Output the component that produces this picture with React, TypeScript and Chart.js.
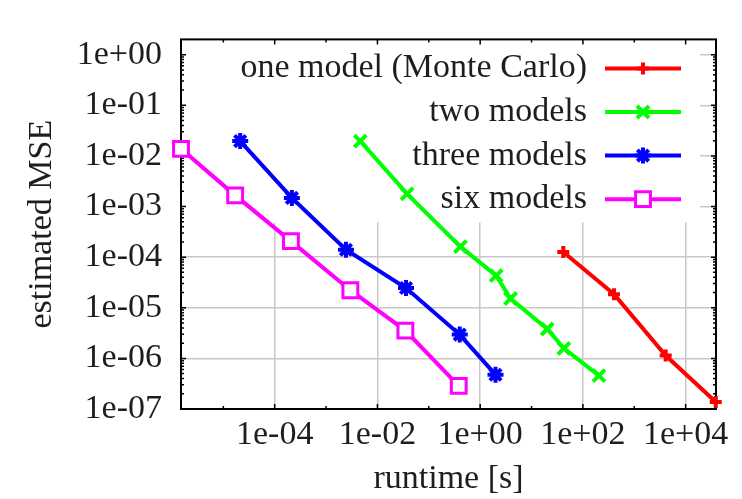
import React, { useEffect, useRef } from 'react';
import { Chart, registerables } from 'chart.js';
import { drawPoint } from 'chart.js/helpers';

Chart.register(...registerables);

// ---- data ----
const seriesNames = ['one model (Monte Carlo)', 'two models', 'three models', 'six models'];

const oneModelRuntime = [41.5, 403, 4090, 38600];
const oneModelMSE = [1.26e-4, 1.85e-5, 1.14e-6, 1.37e-7];

const twoModelsRuntime = [4.64e-3, 0.0378, 0.413, 2.05, 3.9, 20.2, 42.7, 205];
const twoModelsMSE = [0.0196, 1.78e-3, 1.61e-4, 4.32e-5, 1.52e-5, 3.8e-6, 1.58e-6, 4.56e-7];

const threeModelsRuntime = [2.13e-5, 2.16e-4, 2.44e-3, 0.036, 0.4, 1.99];
const threeModelsMSE = [0.0196, 1.48e-3, 1.4e-4, 2.45e-5, 2.95e-6, 4.76e-7];

const sixModelsRuntime = [1.5e-6, 1.7e-5, 2.07e-4, 2.97e-3, 0.035, 0.383];
const sixModelsMSE = [0.0138, 1.66e-3, 2.07e-4, 2.22e-5, 3.54e-6, 2.86e-7];

const xTickValues = [1e-4, 1e-2, 1e0, 1e2, 1e4];
const xMinorTickValues = [1e-5, 1e-3, 1e-1, 1e1, 1e3];
const yTickValues = [1e0, 1e-1, 1e-2, 1e-3, 1e-4, 1e-5, 1e-6, 1e-7];
const xRange = [1.5e-6, 3.9e4];
const yRange = [1e-7, 2];

// ---- styles ----
const colors = ['#ff0000', '#00ff00', '#0000ff', '#ff00ff'];
const pointStyles = ['cross', 'crossRot', 'star', 'rect'];
const pointRadii = [6, 8.5, 8, 10.5];
const pointBorders = [4, 4, 4, 3];
const FONT = '"Liberation Serif", Tinos, "Times New Roman", serif';
const FONT_SIZE = 34;
const TEXT = '#1e1e1e';

Chart.defaults.font.family = FONT;
Chart.defaults.font.size = FONT_SIZE;

const fmtExp = (v: number) => {
  const e = Math.round(Math.log10(v));
  return '1e' + (e < 0 ? '-' : '+') + String(Math.abs(e)).padStart(2, '0');
};

const toPoints = (xs: number[], ys: number[]) => xs.map((x, i) => ({ x, y: ys[i] }));

const framePlugin = {
  id: 'gnuplotFrame',
  beforeDatasetsDraw(chart: any) {
    const { ctx, chartArea: a, scales } = chart;
    const xs = scales.x;
    const ys = scales.y;
    ctx.save();
    // opaque key box
    ctx.fillStyle = '#ffffff';
    ctx.fillRect(a.left + 1, a.top + 1, 700 - a.left - 1, 182);

    // frame
    ctx.strokeStyle = '#000';
    ctx.lineWidth = 2;
    ctx.strokeRect(a.left, a.top, a.right - a.left, a.bottom - a.top);

    // inward ticks
    ctx.lineWidth = 1.5;
    ctx.beginPath();
    const hx = (v: number, len: number) => {
      const p = xs.getPixelForValue(v);
      if (p < a.left || p > a.right) return;
      ctx.moveTo(p, a.bottom);
      ctx.lineTo(p, a.bottom - len);
      ctx.moveTo(p, a.top);
      ctx.lineTo(p, a.top + len);
    };
    const vy = (v: number, len: number) => {
      const p = ys.getPixelForValue(v);
      if (p < a.top - 0.5 || p > a.bottom + 0.5) return;
      ctx.moveTo(a.left, p);
      ctx.lineTo(a.left + len, p);
      ctx.moveTo(a.right, p);
      ctx.lineTo(a.right - len, p);
    };
    xTickValues.forEach((v) => hx(v, 5));
    xMinorTickValues.forEach((v) => hx(v, 3));
    yTickValues.forEach((v) => {
      vy(v, 5);
      for (let k = 2; k <= 9; k++) {
        const m = v * k;
        if (m < yRange[1]) vy(m, 3);
      }
    });
    ctx.stroke();

    // legend
    const rowTop = a.top + 29;
    const rowGap = 43.6;
    ctx.font = `${FONT_SIZE}px ${FONT}`;
    ctx.textAlign = 'right';
    ctx.textBaseline = 'alphabetic';
    seriesNames.forEach((name, i) => {
      const yRow = rowTop + i * rowGap;
      ctx.fillStyle = TEXT;
      ctx.fillText(name, 587, yRow + 9);
      ctx.strokeStyle = colors[i];
      ctx.lineWidth = 4;
      ctx.beginPath();
      ctx.moveTo(605, yRow);
      ctx.lineTo(681, yRow);
      ctx.stroke();
      ctx.fillStyle = '#ffffff';
      ctx.strokeStyle = colors[i];
      ctx.lineWidth = pointBorders[i];
      drawPoint(ctx, { pointStyle: pointStyles[i], radius: pointRadii[i], borderWidth: pointBorders[i], rotation: 0 } as any, 643, yRow);
    });
    ctx.restore();
  },
};

export default function App() {
  const ref = useRef<HTMLCanvasElement | null>(null);
  useEffect(() => {
    if (!ref.current) return;
    const seriesX = [oneModelRuntime, twoModelsRuntime, threeModelsRuntime, sixModelsRuntime];
    const seriesY = [oneModelMSE, twoModelsMSE, threeModelsMSE, sixModelsMSE];
    const datasets = seriesNames.map((name, i) => ({
      label: name,
      data: toPoints(seriesX[i], seriesY[i]),
      borderColor: colors[i],
      backgroundColor: i === 3 ? '#ffffff' : colors[i],
      borderWidth: 4,
      pointStyle: pointStyles[i],
      pointRadius: pointRadii[i],
      pointBorderWidth: pointBorders[i],
      pointBorderColor: colors[i],
      pointBackgroundColor: i === 3 ? '#ffffff' : colors[i],
      tension: 0,
      clip: false as any,
    }));
    const tickFont = { family: FONT, size: FONT_SIZE };
    const chart = new Chart(ref.current, {
      type: 'line',
      data: { datasets },
      plugins: [framePlugin],
      options: {
        animation: false,
        responsive: false,
        devicePixelRatio: 1,
        font: { family: FONT, size: FONT_SIZE },
        layout: { padding: { top: 13, right: 26, left: 0, bottom: 0 } },
        plugins: { legend: { display: false }, tooltip: { enabled: false } },
        scales: {
          x: {
            type: 'logarithmic',
            min: xRange[0],
            max: xRange[1],
            afterBuildTicks: (s: any) => {
              s.ticks = xTickValues.map((v) => ({ value: v }));
            },
            afterFit: (s: any) => {
              s.height = 90;
            },
            grid: { color: '#c8c8c8', lineWidth: 1.5, drawTicks: false },
            border: { display: false },
            ticks: {
              autoSkip: false,
              maxRotation: 0,
              padding: 6,
              color: TEXT,
              font: tickFont,
              callback: (v: any) => fmtExp(Number(v)),
            },
            title: {
              display: true,
              text: 'runtime [s]',
              color: TEXT,
              font: tickFont,
              padding: { top: 0, bottom: 0 },
            },
          },
          y: {
            type: 'logarithmic',
            min: yRange[0],
            max: yRange[1],
            afterBuildTicks: (s: any) => {
              s.ticks = yTickValues.map((v) => ({ value: v }));
            },
            afterFit: (s: any) => {
              s.width = 181;
            },
            grid: { color: '#c8c8c8', lineWidth: 1.5, drawTicks: false },
            border: { display: false },
            ticks: {
              autoSkip: false,
              padding: 19,
              color: TEXT,
              font: tickFont,
              callback: (v: any) => fmtExp(Number(v)),
            },
            title: {
              display: true,
              text: 'estimated MSE',
              color: TEXT,
              font: tickFont,
              padding: { top: 22, bottom: 0 },
            },
          },
        },
      },
    });
    return () => {
      chart.destroy();
    };
  }, []);
  return (
    <div style={{ position: 'absolute', left: 0, top: 0, width: 742, height: 499 }}>
      <canvas ref={ref} width={742} height={499} />
    </div>
  );
}
